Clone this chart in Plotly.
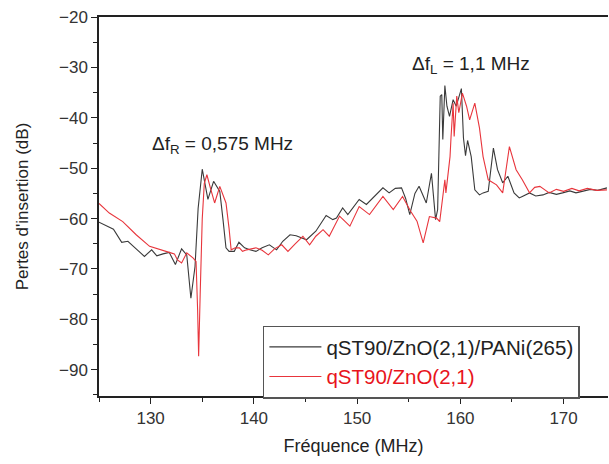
import plotly.graph_objects as go

freq_black = [125.0, 126.4, 127.2, 127.8, 128.6, 129.4, 130.1, 130.6, 131.2, 131.8, 132.4, 133.0, 133.5, 133.9, 134.3,
              134.6, 135.0, 135.55, 136.1, 136.4, 136.7, 137.0, 137.3, 137.6, 138.1, 138.55, 139.1, 139.6, 140.2, 140.8,
              141.5, 142.2, 142.8, 143.5, 144.1, 145.1, 146.0, 147.0, 147.65, 148.0, 148.6, 149.1, 150.2, 150.9, 151.7,
              152.5, 153.1, 153.7, 154.3, 154.7, 155.1, 155.6, 156.0, 156.7, 157.2, 157.6, 157.8, 158.05, 158.2, 158.3,
              158.5, 158.7, 158.95, 159.3, 159.6, 160.1, 160.3, 160.5, 160.7, 161.05, 161.4, 161.85, 162.2, 162.7, 163.2,
              163.6, 164.1, 164.6, 165.2, 165.7, 166.0, 166.7, 167.3, 168.0, 168.6, 169.3, 169.9, 170.6, 171.2, 171.9,
              172.6, 173.3, 174.2]
loss_black = [-60.7, -62.1, -64.7, -64.5, -66.0, -67.5, -66.2, -67.4, -67.0, -66.7, -69.1, -66.0, -67.2, -75.8, -69.5,
              -58.0, -50.2, -56.2, -52.6, -53.5, -54.6, -60.0, -65.8, -66.5, -66.5, -64.7, -65.8, -66.2, -66.5, -65.8,
              -65.2, -66.2, -64.5, -63.2, -63.4, -64.2, -62.5, -59.4, -60.2, -59.9, -57.9, -59.2, -56.2, -57.2, -55.5,
              -53.9, -54.9, -54.0, -53.9, -56.0, -59.2, -55.0, -53.6, -56.9, -51.0, -60.2, -58.2, -35.7, -35.4, -44.3,
              -33.6, -37.7, -39.7, -36.4, -37.7, -34.2, -44.0, -47.5, -44.5, -47.7, -54.3, -55.3, -54.9, -54.6, -46.0,
              -50.3, -52.9, -51.6, -54.9, -55.9, -55.6, -54.9, -55.5, -55.3, -54.8, -55.2, -54.9, -54.5, -54.9, -54.6,
              -54.2, -54.4, -53.9]

freq_red = [125.0, 126.0, 127.3, 128.6, 129.9, 130.9, 131.8, 132.3, 132.6, 133.0, 133.5, 134.1, 134.4, 134.55, 134.65,
            134.8, 135.0, 135.2, 135.45, 135.8, 136.2, 136.7, 137.3, 137.6, 137.8, 138.2, 138.6, 138.9, 139.3, 140.2,
            140.8, 141.4, 142.0, 142.7, 143.3, 144.0, 144.75, 145.4, 146.0, 146.7, 147.3, 148.3, 149.3, 150.2, 151.2,
            152.5, 153.5, 154.4, 155.2, 155.8, 156.4, 157.0, 157.7, 158.0, 158.3, 158.5, 158.6, 159.0, 159.1, 159.3,
            159.4, 159.65, 159.85, 160.2, 160.6, 160.9, 161.4, 161.85, 162.2, 162.7, 163.5, 164.1, 164.75, 165.4, 166.0,
            166.7, 167.2, 167.7, 168.6, 169.3, 170.0, 170.8, 171.5, 172.3, 173.2, 174.2]
loss_red = [-57.0, -58.9, -60.6, -63.2, -65.5, -66.2, -66.7, -67.0, -68.2, -68.8, -66.8, -67.8, -68.5, -78.0, -87.3,
            -75.0, -60.0, -53.0, -51.3, -54.0, -56.9, -53.6, -56.9, -62.0, -66.2, -65.8, -65.8, -66.5, -66.2, -65.8,
            -66.3, -67.2, -66.0, -65.2, -66.5, -65.0, -63.5, -65.2, -63.5, -62.2, -63.5, -59.5, -61.5, -57.6, -59.2,
            -55.6, -58.2, -55.6, -58.6, -60.5, -64.8, -59.6, -59.9, -60.6, -56.0, -52.3, -54.9, -47.7, -43.7, -37.1,
            -43.7, -35.7, -39.0, -35.1, -37.7, -40.4, -37.1, -42.0, -47.7, -52.3, -53.3, -54.9, -45.7, -50.3, -52.3,
            -54.9, -53.8, -53.6, -54.9, -54.2, -54.6, -54.0, -54.5, -54.0, -54.4, -54.3]

name_black = "qST90/ZnO(2,1)/PANi(265)"
name_red = "qST90/ZnO(2,1)"
ann_r = "Δf<sub>R</sub> = 0,575 MHz"
ann_l = "Δf<sub>L</sub> = 1,1 MHz"

FONT = "Liberation Sans, Arial, sans-serif"

fig = go.Figure()
fig.add_trace(go.Scatter(x=freq_black, y=loss_black, mode="lines", name=name_black,
                         line=dict(color="#3a3a3a", width=1.1)))
fig.add_trace(go.Scatter(x=freq_red, y=loss_red, mode="lines",
                         name="<span style='color:#e8141c'>" + name_red + "</span>",
                         line=dict(color="#e8353c", width=1.1)))

fig.add_annotation(x=137.0, y=-45.4, text=ann_r, showarrow=False,
                   font=dict(family=FONT, size=19, color="#222"))
fig.add_annotation(x=161.0, y=-29.6, text=ann_l, showarrow=False,
                   font=dict(family=FONT, size=19, color="#222"))

fig.update_layout(
    width=609, height=464,
    margin=dict(l=99, r=1, t=17, b=68),
    paper_bgcolor="white", plot_bgcolor="white",
    font=dict(family=FONT, size=17, color="#333"),
    showlegend=True,
    legend=dict(x=0.322, y=0.186, xanchor="left", yanchor="top",
                bordercolor="#555", borderwidth=1.5, bgcolor="white",
                font=dict(family=FONT, size=20.5, color="#222"),
                tracegroupgap=0, itemwidth=52),
)
fig.update_xaxes(range=[125, 174.3], showline=True, linecolor="#222", linewidth=1.5, mirror=True,
                 automargin=False,
                 ticks="outside", ticklen=6, tickwidth=1.2, tickcolor="#222", tick0=130, dtick=10,
                 minor=dict(ticks="outside", ticklen=4, tickcolor="#222", dtick=5, tick0=125),
                 showgrid=False, zeroline=False,
                 title=dict(text="Fréquence (MHz)", font=dict(family=FONT, size=18, color="#222"), standoff=12))
fig.update_yaxes(range=[-95.2, -20], showline=True, linecolor="#222", linewidth=1.5,
                 automargin=False,
                 ticks="outside", ticklen=6, tickwidth=1.2, tickcolor="#222", tick0=-90, dtick=10,
                 minor=dict(ticks="outside", ticklen=4, tickcolor="#222", dtick=5),
                 showgrid=False, zeroline=False,
                 title=dict(text="Pertes d'insertion (dB)", font=dict(family=FONT, size=17, color="#222"), standoff=26))

fig.write_html("out.html", config={"displayModeBar": False},
               post_script="document.body.style.margin='0';document.body.style.overflow='hidden';")
